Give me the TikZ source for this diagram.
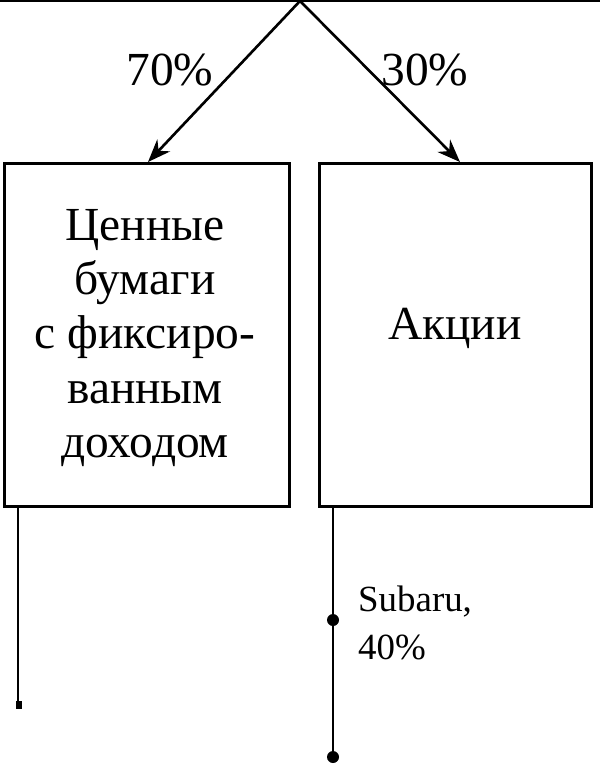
\documentclass[tikz,border=0pt]{standalone}
\usepackage{fontspec}
\setmainfont{Liberation Serif}
\usetikzlibrary{arrows.meta,positioning}
\newlength{\pxu}
\setlength{\pxu}{0.02cm}
\tikzset{
  box/.style={draw, line width=1.5pt, minimum width=285\pxu, minimum height=343\pxu, inner sep=0pt},
  flow/.style={-{Stealth[length=13pt,width=10pt]}, line width=1.5pt},
  big/.style={font=\fontsize{27}{31}\selectfont, align=center},
  small/.style={font=\fontsize{21}{27}\selectfont, align=left, anchor=west},
  dot/.style={circle, fill, inner sep=0pt, minimum size=12\pxu}
}
\begin{document}
\begin{tikzpicture}[x=0.02cm,y=-0.02cm]
    \useasboundingbox (0,0) rectangle (600,767);
    % top line and split
    \coordinate (tl) at (0,1);
    \coordinate (tr) at (600,1);
    \draw[line width=1.5pt] (tl) -- (tr);
    \coordinate (apex) at (300,1);
    \node[box, anchor=north west] (bonds) at (3,162) {};
    \node[box, anchor=north west, minimum width=272\pxu] (stocks) at (318,162) {};
    \coordinate (ba) at (148,162);
    \coordinate (sa) at (460,162);
    \draw[flow] (apex) -- (ba);
    \draw[flow] (apex) -- (sa);
    \node[big] (p70) at (170,70) {70\%};
    \node[big] (p30) at (425,70) {30\%};

    % box texts
    \node[big] (btext) at (145,338) {Ценные\\бумаги\\с фиксиро-\\ванным\\доходом};
    \node[big] (stext) at (455,328) {Акции};

    % lines below
    \coordinate (bl) at (18,505);
    \coordinate (be) at (18,705);
    \draw[line width=1.5pt] (bl) -- (be);
    \fill (be) ++(-2,-4) rectangle ++(6,8);
    \coordinate (sl) at (333,505);
    \node[dot] (subaru) at (333,620) {};
    \node[dot] (send) at (333,757) {};
    \draw[line width=1.5pt] (sl) -- (subaru) -- (send);
    \node[small] (slab) at (352,623) {Subaru,\\40\%};
\end{tikzpicture}
\end{document}
